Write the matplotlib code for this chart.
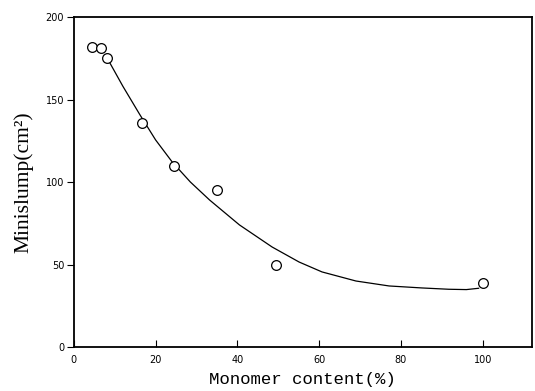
import matplotlib
matplotlib.use('Agg')
import matplotlib.pyplot as plt

# measured points (monomer content %, minislump cm2)
monomer = [4.4, 6.6, 8.0, 16.6, 24.6, 35.0, 49.5, 100.0]
minislump = [182, 181, 175, 136, 110, 95, 50, 39]

# hand-drawn trend line
curve_x = [8.0, 12.0, 16.1, 20.0, 24.1, 28.5, 33.2, 40.5, 48.5, 55.1, 60.7, 69.0, 77.1, 85.1, 91.7, 96.0, 99.0]
curve_y = [175.8, 158.0, 141.0, 125.5, 112.0, 100.0, 89.1, 74.0, 60.6, 51.5, 45.5, 40.0, 37.0, 35.8, 35.0, 34.8, 35.6]

xticks = [0, 20, 40, 60, 80, 100]
yticks = [0, 50, 100, 150, 200]

fig = plt.figure(figsize=(5.35, 3.91), dpi=100)
ax = fig.add_axes([0.138, 0.1125, 0.856, 0.844])

ax.plot(curve_x, curve_y, color='black', linewidth=0.9)
ax.plot(monomer, minislump, linestyle='none', marker='o', markersize=7,
        markerfacecolor='white', markeredgecolor='black', markeredgewidth=0.9)

ax.set_xlim(0, 112)
ax.set_ylim(0, 200)
ax.set_xticks(xticks)
ax.set_yticks(yticks)
ax.tick_params(axis='x', direction='in', length=5, labelsize=7, pad=6)
ax.tick_params(axis='y', direction='out', length=5, labelsize=7, pad=2)
for s in ax.spines.values():
    s.set_linewidth(1.3)

ax.set_xlabel('Monomer content(%)', family='Liberation Mono', fontsize=12.5, labelpad=5)
ax.set_ylabel('Minislump(cm²)', family='Liberation Serif', fontsize=15.5, labelpad=9)

plt.savefig('out.png', dpi=100)
